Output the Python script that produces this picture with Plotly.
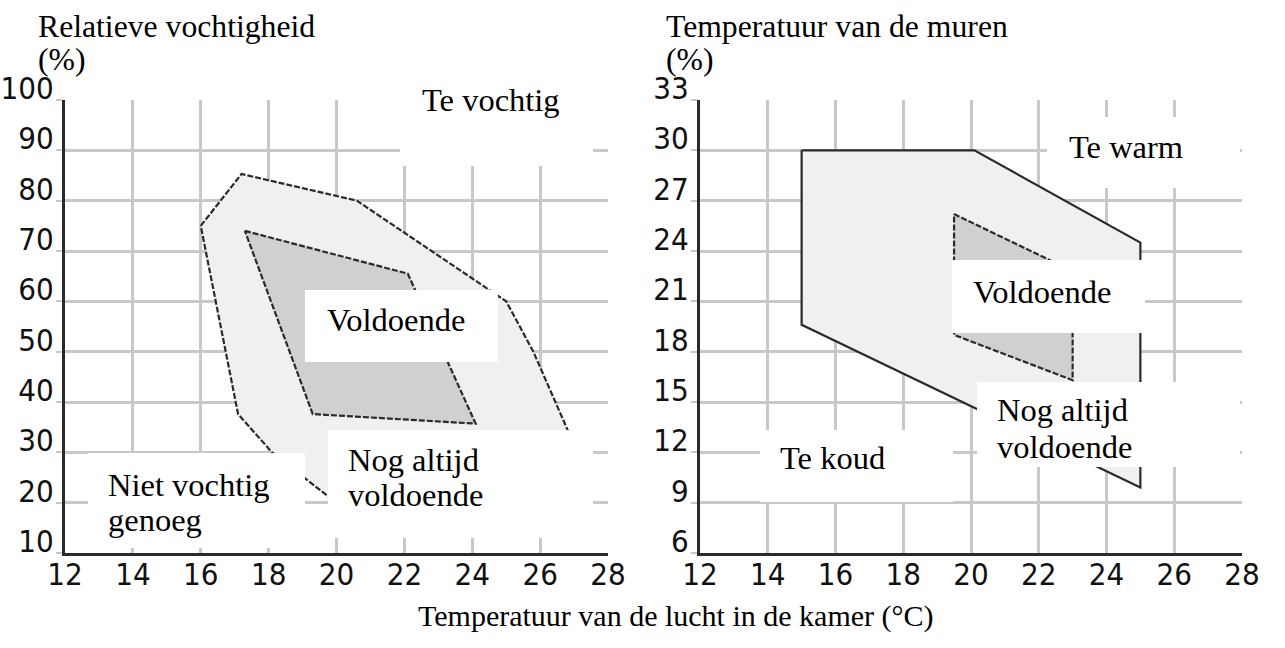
import plotly.graph_objects as go

# ---------------- data ----------------
x_ticks = [12, 14, 16, 18, 20, 22, 24, 26, 28]
left_y_ticks = [10, 20, 30, 40, 50, 60, 70, 80, 90, 100]
right_y_ticks = [6, 9, 12, 15, 18, 21, 24, 27, 30, 33]

# Left chart: relative humidity vs air temperature
hum_outer_x = [16, 17.2, 20.6, 25, 25.8, 26.8, 27.3, 20.5, 19.8, 18.1, 17.1]
hum_outer_y = [75, 85.3, 80, 60, 50, 34.6, 28, 17, 21, 30, 37.6]
hum_inner_x = [17.3, 22.1, 24.1, 19.3]
hum_inner_y = [74, 65.5, 35.7, 37.6]

# Right chart: wall temperature vs air temperature
wall_outer_x = [15, 20.1, 25, 25, 15]
wall_outer_y = [30, 30, 24.5, 9.9, 19.6]
wall_inner_x = [19.5, 23, 23, 19.5]
wall_inner_y = [26.2, 22.8, 16.3, 19]

W, H = 1285, 648
SERIF = "Liberation Serif, Times New Roman, serif"
TICKFONT = dict(family="Liberation Sans Narrow, DejaVu Sans Condensed, Arial Narrow, sans-serif",
                size=31, color="#111111")
GRID = "#c8c8c8"
LINE = "#2a2a2a"
OUTER_FILL = "#f0f0f0"
INNER_FILL = "#d0d0d0"


def closed(a):
    return list(a) + [a[0]]


fig = go.Figure()


def poly(xs, ys, fill, dash, xa, ya):
    fig.add_trace(go.Scatter(
        x=closed(xs), y=closed(ys), mode="lines", fill="toself", fillcolor=fill,
        line=dict(color=LINE, width=2.2, dash=dash), xaxis=xa, yaxis=ya,
        hoverinfo="skip", showlegend=False))


poly(hum_outer_x, hum_outer_y, OUTER_FILL, "6px,2px", "x", "y")
poly(hum_inner_x, hum_inner_y, INNER_FILL, "6px,2px", "x", "y")
poly(wall_outer_x, wall_outer_y, OUTER_FILL, "solid", "x2", "y2")
poly(wall_inner_x, wall_inner_y, INNER_FILL, "6px,2px", "x2", "y2")

# ---------------- white label boxes (pixel layout) ----------------
boxes = [
    (400, 68, 593, 166), (305, 290, 498, 362), (328, 430, 593, 538), (88, 453, 305, 548),
    (1047, 117, 1240, 188), (952, 260, 1145, 333), (977, 382, 1240, 467), (760, 430, 953, 502),
]
shapes = []
for x0, y0, x1, y1 in boxes:
    shapes.append(dict(type="rect", xref="paper", yref="paper", layer="above",
                       x0=x0 / W, x1=x1 / W, y0=1 - y1 / H, y1=1 - y0 / H,
                       fillcolor="white", line=dict(width=0)))

# (text, left px, centre px, font size)
texts = [
    ("Te vochtig", 420, 100, 32.5), ("Voldoende", 325, 320, 32.5),
    ("Nog altijd", 346, 460, 32.5), ("voldoende", 346, 495, 32.5),
    ("Niet vochtig", 106, 485, 32.5), ("genoeg", 106, 520, 32.5),
    ("Te warm", 1067, 147, 32.5), ("Voldoende", 971, 292, 32.5),
    ("Nog altijd", 995, 410, 32.5), ("voldoende", 995, 447, 32.5),
    ("Te koud", 778, 458, 32.5),
    ("Relatieve vochtigheid", 36, 27, 31.7), ("(%)", 36, 60, 31.7),
    ("Temperatuur van de muren", 664, 27, 31.7), ("(%)", 664, 60, 31.7),
    ("Temperatuur van de lucht in de kamer (°C)", 416, 616, 30),
]
annotations = []
for t, x, y, s in texts:
    annotations.append(dict(text=t, xref="paper", yref="paper", x=x / W, y=1 - y / H,
                            xanchor="left", yanchor="middle", showarrow=False,
                            font=dict(family=SERIF, size=s, color="black")))


def xaxis(domain, anchor):
    return dict(domain=domain, anchor=anchor, range=[12, 28], tickvals=x_ticks,
                showgrid=True, gridcolor=GRID, gridwidth=2.5, zeroline=False,
                showline=True, linecolor=LINE, linewidth=3, ticks="", ticklen=0,
                ticklabelstandoff=-8,
                tickfont=TICKFONT, fixedrange=True, automargin=False)


def yaxis(domain, anchor, rng, vals):
    return dict(domain=domain, anchor=anchor, range=rng, tickvals=vals,
                showgrid=True, gridcolor=GRID, gridwidth=2.5, zeroline=False,
                showline=True, linecolor=LINE, linewidth=3, ticks="outside",
                ticklen=6, tickwidth=2, tickcolor=GRID, ticklabelshift=-12,
                ticklabelstandoff=-4,
                tickfont=TICKFONT, fixedrange=True, automargin=False)


ydom = [1 - 553 / H, 1 - 100 / H]
fig.update_layout(
    width=W, height=H, margin=dict(l=0, r=0, t=0, b=0, pad=0),
    paper_bgcolor="white", plot_bgcolor="white", showlegend=False,
    xaxis=xaxis([65 / W, 608 / W], "y"),
    yaxis=yaxis(ydom, "x", [10, 100], left_y_ticks),
    xaxis2=xaxis([700 / W, 1242 / W], "y2"),
    yaxis2=yaxis(ydom, "x2", [6, 33], right_y_ticks),
    shapes=shapes, annotations=annotations,
)

fig.write_html("out.html", config={"displayModeBar": False},
               post_script="document.body.style.margin='0';")
